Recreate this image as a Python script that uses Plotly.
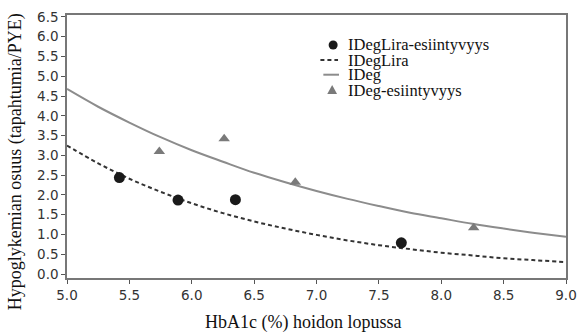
import plotly.graph_objects as go

# ---- data ----
hba1c_grid = [5.0, 5.25, 5.5, 5.75, 6.0, 6.25, 6.5, 6.75, 7.0, 7.25, 7.5,
              7.75, 8.0, 8.25, 8.5, 8.75, 9.0]
ideg_curve = [4.68, 4.23, 3.83, 3.46, 3.13, 2.84, 2.56, 2.32, 2.10, 1.90,
              1.72, 1.55, 1.41, 1.27, 1.15, 1.04, 0.94]
ideglira_curve = [3.25, 2.80, 2.41, 2.08, 1.79, 1.54, 1.33, 1.15, 0.99, 0.85,
                  0.73, 0.63, 0.54, 0.47, 0.40, 0.35, 0.30]

ideglira_obs_x = [5.42, 5.89, 6.35, 7.68]
ideglira_obs_y = [2.44, 1.87, 1.88, 0.79]
ideg_obs_x = [5.74, 6.26, 6.83, 8.26]
ideg_obs_y = [3.10, 3.42, 2.32, 1.17]

legend_labels = ["IDegLira-esiintyvyys", "IDegLira", "IDeg", "IDeg-esiintyvyys"]
x_title = "HbA1c (%) hoidon lopussa"
y_title = "Hypoglykemian osuus (tapahtumia/PYE)"

x_ticks = [5.0, 5.5, 6.0, 6.5, 7.0, 7.5, 8.0, 8.5, 9.0]
y_ticks = [0.0, 0.5, 1.0, 1.5, 2.0, 2.5, 3.0, 3.5, 4.0, 4.5, 5.0, 5.5, 6.0, 6.5]

# ---- styles ----
W, H = 586, 333
ML, MR, MT, MB = 67, 9, 15, 55
PW, PH = W - ML - MR, H - MT - MB
SERIF = "Liberation Serif"
SANS = "DejaVu Sans"
GRAY_LINE = "#8c8c8c"
DARK = "#1a1a1a"
TRI = "#7a7a7a"


def px(xp):
    return (xp - ML) / PW


def py(yp):
    return (H - MB - yp) / PH


fig = go.Figure()
fig.add_trace(go.Scatter(x=hba1c_grid, y=ideg_curve, mode="lines",
                         line=dict(color=GRAY_LINE, width=2, shape="spline"),
                         name=legend_labels[2]))
fig.add_trace(go.Scatter(x=hba1c_grid, y=ideglira_curve, mode="lines",
                         line=dict(color="#333333", width=2, dash="4px,3px", shape="spline"),
                         name=legend_labels[1]))
fig.add_trace(go.Scatter(x=ideg_obs_x, y=ideg_obs_y, mode="markers",
                         marker=dict(symbol="triangle-up", size=10, color=TRI),
                         name=legend_labels[3]))
fig.add_trace(go.Scatter(x=ideglira_obs_x, y=ideglira_obs_y, mode="markers",
                         marker=dict(symbol="circle", size=11, color=DARK),
                         name=legend_labels[0]))

# ---- manual legend (tight row spacing as in the reference) ----
rows_y = [45, 60, 74.7, 90]
text_x = 352
shapes = []
r = 4.6
shapes.append(dict(type="circle", xref="paper", yref="paper",
                   x0=px(339 - r), x1=px(339 + r), y0=py(rows_y[0] + r), y1=py(rows_y[0] - r),
                   fillcolor=DARK, line=dict(width=0)))
shapes.append(dict(type="line", xref="paper", yref="paper",
                   x0=px(326), x1=px(344), y0=py(rows_y[1]), y1=py(rows_y[1]),
                   line=dict(color="#333333", width=2, dash="4px,3px")))
shapes.append(dict(type="line", xref="paper", yref="paper",
                   x0=px(329), x1=px(345), y0=py(rows_y[2]), y1=py(rows_y[2]),
                   line=dict(color=GRAY_LINE, width=2)))
cx, cy = 338, rows_y[3]
shapes.append(dict(type="path", xref="paper", yref="paper",
                   path=f"M {px(cx-5)} {py(cy+4)} L {px(cx+5)} {py(cy+4)} L {px(cx)} {py(cy-5)} Z",
                   fillcolor=TRI, line=dict(width=0)))

annotations = []
for lbl, ry in zip(legend_labels, rows_y):
    annotations.append(dict(text=lbl, xref="paper", yref="paper", x=px(text_x), y=py(ry),
                            xanchor="left", yanchor="middle", showarrow=False,
                            font=dict(family=SERIF, size=16.5, color="#111111")))
annotations.append(dict(text=x_title, xref="paper", yref="paper", x=px(308.5), y=py(322),
                        xanchor="center", yanchor="middle", showarrow=False,
                        font=dict(family=SERIF, size=18, color="#111111")))
annotations.append(dict(text=y_title, xref="paper", yref="paper", x=px(14), y=py(162),
                        xanchor="center", yanchor="middle", showarrow=False, textangle=-90,
                        font=dict(family=SERIF, size=18, color="#111111")))

axis_common = dict(showline=True, linecolor="#777777", linewidth=1.5, mirror=True,
                   showgrid=False, zeroline=False, ticks="outside", ticklen=4,
                   tickcolor="#555555", tickwidth=1,
                   tickfont=dict(family=SANS, size=13.5, color="#333333"))

fig.update_layout(
    width=W, height=H,
    margin=dict(l=ML, r=MR, t=MT, b=MB),
    paper_bgcolor="white", plot_bgcolor="white",
    showlegend=False,
    xaxis=dict(range=[5.0, 9.0], tickvals=x_ticks, ticktext=[f"{v:.1f}" for v in x_ticks],
               **axis_common),
    yaxis=dict(range=[-0.1, 6.55], tickvals=y_ticks, ticktext=[f"{v:.1f}" for v in y_ticks],
               **axis_common),
    shapes=shapes,
    annotations=annotations,
)

fig.write_html("out.html",
               config={"displayModeBar": False},
               post_script="document.body.style.margin='0px';document.body.style.overflow='hidden';")
